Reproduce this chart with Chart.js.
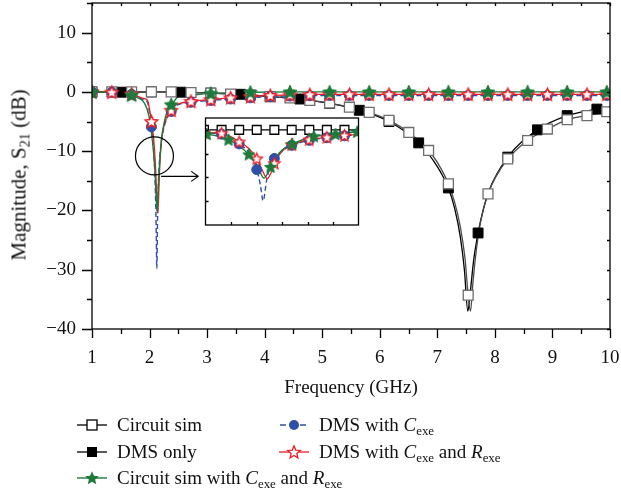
<!DOCTYPE html>
<html><head><meta charset="utf-8">
<script src="https://cdn.jsdelivr.net/npm/chart.js@4/dist/chart.umd.min.js"></script>
<style>
html,body{margin:0;padding:0;background:#fff;}
#wrap{position:relative;width:621px;height:494px;overflow:hidden;font-family:"Liberation Serif","DejaVu Serif",serif;color:#111;}
#main{position:absolute;left:0;top:0;}
#inset{position:absolute;left:204px;top:116px;background:#fff;}
#ytitle{position:absolute;left:19px;top:175px;transform:translate(-50%,-50%) rotate(-90deg);white-space:nowrap;font-size:21px;}
.leg{position:absolute;height:24px;font-size:19px;white-space:nowrap;display:flex;align-items:center;}
.leg svg{margin-right:10px;flex:none;}
sub{font-size:0.68em;vertical-align:-0.28em;line-height:0;}
</style></head>
<body>
<div id="wrap">
  <canvas id="main" width="621" height="494"></canvas>
  <canvas id="inset" width="156" height="111"></canvas>
  <div id="ytitle">Magnitude, S<sub>21</sub> (dB)</div>
  <div id="legend"></div>
</div>
<script>
// ---------------- data ----------------
const circuitSim = [
  [1.0,0],[1.344,0],[1.688,0],[1.894,0],[1.963,0],[2.032,0],[2.101,0],[2.17,0],[2.238,0],[2.307,0],[2.376,0],[2.445,0],
  [2.72,-0.1],[3.064,-0.2],[3.408,-0.35],[3.752,-0.55],[4.096,-0.8],[4.44,-1.03],[4.784,-1.44],[5.128,-1.88],
  [5.472,-2.58],[5.816,-3.46],[6.16,-4.81],[6.504,-6.84],[6.848,-9.88],[7.0,-11.9],[7.192,-15.5],[7.3,-18.6],
  [7.4,-22.8],[7.48,-28.0],[7.536,-34.3],[7.575,-37.0],[7.62,-32.0],[7.68,-26.5],[7.76,-21.5],[7.88,-17.2],
  [8.0,-14.6],[8.224,-11.3],[8.568,-8.2],[8.912,-6.27],[9.256,-4.7],[9.6,-4.0],[9.944,-3.35],[10.0,-3.25]
];
const dmsOnly = [
  [1.0,0],[1.516,-0.05],[2.032,0],[2.548,-0.05],[3.064,-0.2],[3.58,-0.4],[4.096,-0.8],[4.612,-1.2],[5.128,-1.95],
  [5.644,-3.1],[6.16,-5.0],[6.676,-8.6],[7.0,-12.6],[7.192,-16.2],[7.3,-19.6],[7.4,-24.5],[7.47,-30.0],[7.53,-37.0],
  [7.57,-34.0],[7.63,-28.5],[7.708,-23.8],[7.8,-19.8],[7.9,-16.6],[8.224,-11.0],[8.74,-6.4],[9.256,-4.0],
  [9.772,-2.9],[10.0,-2.55]
];
const circuitCR = [
  [1.0,0],[1.344,-0.1],[1.688,-0.55],[1.8,-1.0],[1.905,-1.8],[1.99,-4.1],[2.07,-10.3],[2.1,-14.5],[2.13,-20.3],
  [2.155,-15.6],[2.2,-8.6],[2.24,-5.9],[2.325,-2.7],[2.376,-2.15],[2.41,-1.8],[2.495,-0.8],[2.72,-0.5],
  [3.064,-0.25],[3.408,-0.12],[3.752,-0.05],[4.44,0],[5.128,0],[5.816,0],[6.504,0],[7.192,0],[7.88,0],
  [8.568,0],[9.256,0],[9.944,0],[10.0,0]
];
const dmsC = [
  [1.0,0],[1.344,-0.05],[1.688,-0.4],[1.894,-1.3],[1.963,-1.8],[2.032,-5.9],[2.07,-9.5],[2.101,-16.7],[2.115,-23.0],
  [2.126,-29.8],[2.14,-21.0],[2.155,-15.0],[2.17,-12.0],[2.2,-8.8],[2.238,-6.5],[2.307,-4.4],[2.376,-3.3],
  [2.445,-2.5],[2.5,-2.15],[2.72,-1.75],[3.064,-1.45],[3.408,-1.2],[3.752,-1.0],[4.096,-0.8],[4.44,-0.7],
  [4.784,-0.65],[5.128,-0.6],[5.472,-0.6],[5.816,-0.6],[6.16,-0.6],[6.504,-0.6],[6.848,-0.6],[7.192,-0.6],
  [7.536,-0.6],[7.88,-0.6],[8.224,-0.6],[8.568,-0.6],[8.912,-0.6],[9.256,-0.6],[9.6,-0.6],[9.944,-0.6],[10.0,-0.6]
];
const dmsCR = [
  [1.0,0],[1.344,-0.05],[1.688,-0.35],[1.894,-1.1],[1.963,-1.4],[2.032,-5.0],[2.07,-7.8],[2.101,-12.1],[2.125,-17.5],
  [2.142,-20.5],[2.157,-18.0],[2.17,-14.0],[2.2,-9.0],[2.238,-6.2],[2.307,-4.1],[2.376,-3.1],[2.445,-2.3],
  [2.5,-2.0],[2.72,-1.6],[3.064,-1.3],[3.408,-1.0],[3.752,-0.8],[4.096,-0.6],[4.44,-0.5],[4.784,-0.45],
  [5.128,-0.4],[5.472,-0.4],[5.816,-0.4],[6.16,-0.4],[6.504,-0.4],[6.848,-0.4],[7.192,-0.4],[7.536,-0.4],
  [7.88,-0.4],[8.224,-0.4],[8.568,-0.4],[8.912,-0.4],[9.256,-0.4],[9.6,-0.4],[9.944,-0.4],[10.0,-0.4]
];
// marker frequencies (GHz)
const marksEvery = [1.0,1.344,1.688,2.032,2.376,2.72,3.064,3.408,3.752,4.096,4.44,4.784,5.128,5.472,5.816,6.16,6.504,6.848,7.192,7.536,7.88,8.224,8.568,8.912,9.256,9.6,9.944];
const marksEven  = [1.0,1.688,2.376,3.064,3.752,4.44,5.128,5.816,6.504,7.192,7.88,8.568,9.256,9.944];
const marksDms   = [1.0,1.516,2.032,2.548,3.064,3.58,4.096,4.612,5.128,5.644,6.16,6.676,7.192,7.708,8.224,8.74,9.256,9.772];
const insetMarks   = [1.894,1.963,2.032,2.101,2.17,2.238,2.307,2.376,2.445];
const insetMarksCR = [1.905,1.99,2.07,2.155,2.24,2.325,2.41,2.495];
// axes
const xMain = {min:1, max:10, step:0.5};
const yMain = {min:-40, max:15, step:5};
const xInset = {min:1.9, max:2.5, step:0.1};
const yInset = {min:-40, max:5, step:10};
const legendLabels = [
  'Circuit sim',
  'DMS only',
  'Circuit sim with <i>C</i><sub>exe</sub> and <i>R</i><sub>exe</sub>',
  'DMS with <i>C</i><sub>exe</sub>',
  'DMS with <i>C</i><sub>exe</sub> and <i>R</i><sub>exe</sub>'
];
const xTitle = 'Frequency (GHz)';

// ---------------- styles ----------------
const FONT = '"Liberation Serif","DejaVu Serif",serif';
const C_GRAY = '#6e6e6e', C_GRAYLINE = '#4a4a4a', C_BLACK = '#000', C_GREEN = '#1c7a3a', C_BLUE = '#3050a8', C_RED = '#ec1c24';

function starPath(ctx, cx, cy, R, r) {
  ctx.beginPath();
  for (let i = 0; i < 10; i++) {
    const a = -Math.PI / 2 + i * Math.PI / 5;
    const rr = i % 2 ? r : R;
    const px = cx + rr * Math.cos(a), py = cy + rr * Math.sin(a);
    i ? ctx.lineTo(px, py) : ctx.moveTo(px, py);
  }
  ctx.closePath();
}
function starImg(R, fill, stroke, lw) {
  const c = document.createElement('canvas');
  const s = Math.ceil(2 * R + 3);
  c.width = s; c.height = s;
  const g = c.getContext('2d');
  starPath(g, s / 2, s / 2 + 0.5, R, R * 0.46);
  g.fillStyle = fill; g.fill();
  if (stroke) { g.strokeStyle = stroke; g.lineWidth = lw; g.stroke(); }
  return c;
}
const greenStar = starImg(7.2, C_GREEN, C_GREEN, 1);
const redStar = starImg(6.6, '#fff', C_RED, 1.4);
const greenStarS = starImg(6.4, C_GREEN, C_GREEN, 1);
const redStarS = starImg(6.0, '#fff', C_RED, 1.3);

const pts = s => s.map(p => ({x: p[0], y: p[1]}));
const pick = (s, fs) => fs.map(f => { const p = s.find(q => Math.abs(q[0] - f) < 1e-6); return {x: f, y: p[1]}; });

function lineDs(s, color, width, order, dash) {
  return {data: pts(s), showLine: true, borderColor: color, borderWidth: width, borderDash: dash || [],
    pointRadius: 0, cubicInterpolationMode: 'monotone', fill: false, order: order};
}
function markDs(s, fs, style, radius, bg, border, bw, order) {
  return {data: pick(s, fs), showLine: false, pointStyle: style, pointRadius: radius,
    backgroundColor: bg, borderColor: border, borderWidth: bw, order: order};
}
function noPad(s) { s.paddingTop = 0; s.paddingBottom = 0; s.paddingLeft = 0; s.paddingRight = 0; }

function framePlugin(opts) {
  return {
    id: 'frame' + opts.name,
    afterDraw(chart) {
      const {ctx, chartArea: a, scales: {x, y}} = chart;
      ctx.save();
      ctx.strokeStyle = '#000'; ctx.lineWidth = 1.3;
      ctx.strokeRect(a.left, a.top, a.right - a.left, a.bottom - a.top);
      ctx.beginPath();
      opts.ticks(ctx, a, x, y);
      ctx.stroke();
      if (opts.extra) opts.extra(ctx, a, x, y);
      ctx.restore();
    }
  };
}

// ---------------- main chart ----------------
const mainDatasets = [
  lineDs(dmsOnly, C_BLACK, 1.3, 20),
  lineDs(circuitSim, C_GRAYLINE, 1.3, 19),
  lineDs(dmsC, C_BLUE, 1.4, 18, [5, 3]),
  lineDs(dmsCR, C_RED, 1.3, 17),
  lineDs(circuitCR, C_GREEN, 1.4, 16),
  markDs(dmsOnly, marksDms, 'rect', 7, C_BLACK, C_BLACK, 1, 5),
  markDs(circuitSim, marksEvery, 'rect', 7, '#fff', C_GRAY, 1.3, 4),
  markDs(dmsC, marksEvery, 'circle', 5, C_BLUE, C_BLUE, 1, 3),
  markDs(dmsCR, marksEvery, redStar, 6, C_RED, C_RED, 1, 2),
  markDs(circuitCR, marksEven, greenStar, 7, C_GREEN, C_GREEN, 1, 1)
];

const zoomMark = {x: 2.085, y: -10.8, r: 19, arrowY: -14.25, arrowFrom: 2.2, arrowTo: 2.845};

new Chart(document.getElementById('main'), {
  type: 'scatter',
  data: {datasets: mainDatasets},
  options: {
    responsive: false, animation: false, events: [],
    layout: {autoPadding: false, padding: {top: 3, right: 11, bottom: 95, left: 0}},
    plugins: {legend: {display: false}, tooltip: {enabled: false}},
    scales: {
      x: {type: 'linear', min: xMain.min, max: xMain.max,
        ticks: {stepSize: xMain.step, autoSkip: false, maxRotation: 0, padding: 18, color: '#111',
          font: {family: FONT, size: 19}, callback: v => Number.isInteger(v) ? String(v) : ''},
        grid: {display: false, drawTicks: false}, border: {display: false},
        title: {display: true, text: xTitle, color: '#111', font: {family: FONT, size: 19}, padding: 0},
        afterFit: s => { s.height = 70; noPad(s); }},
      y: {type: 'linear', min: yMain.min, max: yMain.max,
        ticks: {stepSize: yMain.step, autoSkip: false, padding: 16, color: '#111',
          font: {family: FONT, size: 19},
          callback: v => (v % 10 === 0) ? (v < 0 ? '\u2212' + Math.abs(v) : String(v)) : ''},
        grid: {display: false, drawTicks: false}, border: {display: false},
        afterFit: s => { s.width = 92; noPad(s); }}
    }
  },
  plugins: [framePlugin({
    name: 'main',
    ticks(ctx, a, x, y) {
      for (let v = xMain.min; v <= xMain.max + 1e-9; v += xMain.step) {
        const px = Math.round(x.getPixelForValue(v)) + 0.5;
        const major = Number.isInteger(v);
        ctx.moveTo(px, a.bottom); ctx.lineTo(px, a.bottom + (major ? 9 : 5));
        ctx.moveTo(px, a.top); ctx.lineTo(px, a.top + 3);
      }
      for (let v = yMain.min; v <= yMain.max + 1e-9; v += yMain.step) {
        const py = Math.round(y.getPixelForValue(v)) + 0.5;
        const major = v % 10 === 0;
        ctx.moveTo(a.left, py); ctx.lineTo(a.left - (major ? 10 : 5), py);
        ctx.moveTo(a.right, py); ctx.lineTo(a.right - 3, py);
      }
    },
    extra(ctx, a, x, y) {
      const cx = x.getPixelForValue(zoomMark.x), cy = y.getPixelForValue(zoomMark.y);
      ctx.lineWidth = 1.2;
      ctx.beginPath(); ctx.arc(cx, cy, zoomMark.r, 0, Math.PI * 2); ctx.stroke();
      const ay = y.getPixelForValue(zoomMark.arrowY);
      const x0 = x.getPixelForValue(zoomMark.arrowFrom), x1 = x.getPixelForValue(zoomMark.arrowTo);
      ctx.beginPath(); ctx.moveTo(x0, ay); ctx.lineTo(x1, ay);
      ctx.moveTo(x1 - 7, ay - 5); ctx.lineTo(x1, ay); ctx.lineTo(x1 - 7, ay + 5);
      ctx.stroke();
    }
  })]
});

// ---------------- inset ----------------
const insetDatasets = [
  lineDs(circuitSim, C_BLACK, 1.3, 19),
  lineDs(dmsC, C_BLUE, 1.4, 18, [5, 3]),
  lineDs(dmsCR, C_RED, 1.3, 17),
  lineDs(circuitCR, C_GREEN, 1.4, 16),
  markDs(circuitSim, insetMarks, 'rect', 6.2, '#fff', C_BLACK, 1.3, 4),
  markDs(dmsC, insetMarks, 'circle', 5, C_BLUE, C_BLUE, 1, 3),
  markDs(dmsCR, insetMarks, redStarS, 6, C_RED, C_RED, 1, 2),
  markDs(circuitCR, insetMarksCR, greenStarS, 6, C_GREEN, C_GREEN, 1, 1)
];
new Chart(document.getElementById('inset'), {
  type: 'scatter',
  data: {datasets: insetDatasets},
  options: {
    responsive: false, animation: false, events: [],
    layout: {autoPadding: false, padding: {top: 2, right: 1.5, bottom: 2, left: 1.5}},
    plugins: {legend: {display: false}, tooltip: {enabled: false}},
    scales: {
      x: {type: 'linear', display: false, min: xInset.min, max: xInset.max},
      y: {type: 'linear', display: false, min: yInset.min, max: yInset.max}
    }
  },
  plugins: [framePlugin({
    name: 'inset',
    ticks(ctx, a, x, y) {
      for (let v = xInset.min + xInset.step; v < xInset.max - 1e-9; v += xInset.step) {
        const px = Math.round(x.getPixelForValue(v)) + 0.5;
        ctx.moveTo(px, a.bottom); ctx.lineTo(px, a.bottom - 3);
      }
      for (let v = yInset.min + yInset.step; v <= 0 + 1e-9; v += yInset.step) {
        const py = Math.round(y.getPixelForValue(v)) + 0.5;
        ctx.moveTo(a.left, py); ctx.lineTo(a.left + 3, py);
      }
    }
  })]
});

// ---------------- legend ----------------
function starPts(cx, cy, R, r) {
  const p = [];
  for (let i = 0; i < 10; i++) {
    const a = -Math.PI / 2 + i * Math.PI / 5, rr = i % 2 ? r : R;
    p.push((cx + rr * Math.cos(a)).toFixed(2) + ',' + (cy + rr * Math.sin(a)).toFixed(2));
  }
  return p.join(' ');
}
const icons = [
  `<line x1="0" y1="8" x2="30" y2="8" stroke="#000" stroke-width="1.3"/><rect x="10" y="3" width="10" height="10" fill="#fff" stroke="#000" stroke-width="1.3"/>`,
  `<line x1="0" y1="8" x2="30" y2="8" stroke="#000" stroke-width="1.3"/><rect x="10" y="3" width="10" height="10" fill="#000"/>`,
  `<line x1="0" y1="8" x2="30" y2="8" stroke="${C_GREEN}" stroke-width="1.4"/><polygon points="${starPts(15, 8.5, 7.2, 3.3)}" fill="${C_GREEN}"/>`,
  `<line x1="0" y1="8" x2="30" y2="8" stroke="${C_BLUE}" stroke-width="1.4" stroke-dasharray="6 4" stroke-dashoffset="-1"/><circle cx="15" cy="8" r="5" fill="${C_BLUE}"/>`,
  `<line x1="0" y1="8" x2="30" y2="8" stroke="${C_RED}" stroke-width="1.3"/><polygon points="${starPts(15, 8.5, 6.6, 3.0)}" fill="#fff" stroke="${C_RED}" stroke-width="1.3"/>`
];
const legPos = [[77, 425], [77, 451.7], [77, 478], [279, 425], [279, 451.7]];
const legEl = document.getElementById('legend');
legendLabels.forEach((t, i) => {
  const d = document.createElement('div');
  d.className = 'leg';
  d.style.left = legPos[i][0] + 'px';
  d.style.top = (legPos[i][1] - 12) + 'px';
  d.innerHTML = `<svg width="30" height="16" viewBox="0 0 30 16">${icons[i]}</svg><span>${t}</span>`;
  legEl.appendChild(d);
});
</script>
</body></html>
